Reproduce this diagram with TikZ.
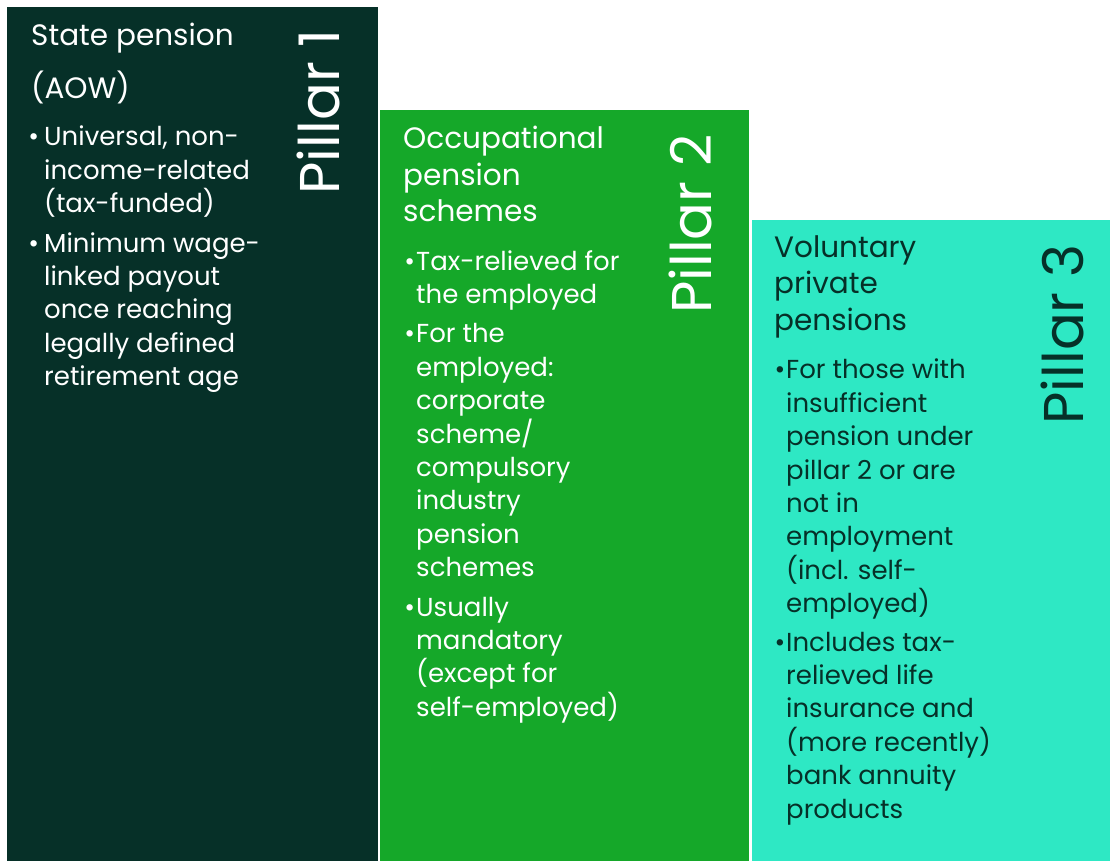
\documentclass[tikz,border=0pt]{standalone}
\usepackage{fontspec}
\setmainfont{Poppins}
\usetikzlibrary{positioning}
\definecolor{pillarone}{HTML}{063028}
\definecolor{pillartwo}{HTML}{15A829}
\definecolor{pillarthree}{HTML}{2EE8C4}
\tikzset{
	column/.style={inner sep=0pt, outer sep=0pt, anchor=south west},
	heading/.style={inner sep=0pt, anchor=north west, align=left,
		font=\fontsize{29.5}{36.5}\selectfont,
		execute at begin node={\rule{0pt}{24pt}}},
	body/.style={inner sep=0pt, anchor=north west, align=left,
		font=\fontsize{26}{33.4}\selectfont,
		execute at begin node={\rule{0pt}{24pt}}},
	pillarlabel/.style={inner sep=0pt, rotate=90, anchor=base east,
		font=\fontsize{56}{56}\selectfont},
}
\newcommand{\bul}{\llap{\textbullet\kern1pt}}

\begin{document}
\begin{tikzpicture}[x=1pt, y=-1pt]

\useasboundingbox (0,0) rectangle (1110,861);

% Pillar 1
\node [column,
	fill=pillarone,
	minimum width=370.5pt,
	minimum height=854pt
] (p1) at (7,861) {};

% Pillar 2
\node [right=2.5pt of p1.south east,
	column,
	fill=pillartwo,
	minimum width=369pt,
	minimum height=751pt
] (p2) {};

% Pillar 3
\node [right=3pt of p2.south east,
	column,
	fill=pillarthree,
	minimum width=358pt,
	minimum height=641pt
] (p3) {};

% Headings
\node [heading, text=white] (t1) at (31,23) {State pension\\[16pt](AOW)};
\node [heading, text=white] (t2) at (403,126) {Occupational\\pension\\schemes};
\node [heading, text=pillarone] (t3) at (774,235) {Voluntary\\private\\pensions};

% Bullets
\node [body, text=white] (b1) at (44,126) {%
\llap{\textbullet\kern5pt}Universal, non-\\income-related\\(tax-funded)\\[6pt]
\llap{\textbullet\kern5pt}Minimum wage-\\linked payout\\once reaching\\legally defined\\retirement age};
\node [body, text=white] (b2) at (416,250) {%
\bul Tax-relieved for\\the employed\\[6pt]
\bul For the\\employed:\\corporate\\scheme/\\compulsory\\industry\\pension\\schemes\\[6pt]
\bul Usually\\mandatory\\(except for\\self-employed)};
\node [body, text=pillarone] (b3) at (786,359) {%
\bul For those with\\insufficient\\pension under\\pillar 2 or are\\not in\\employment\\(incl. self-\\employed)\\[5pt]
\bul Includes tax-\\relieved life\\insurance and\\(more recently)\\bank annuity\\products};

% Pillar labels
\node [pillarlabel, text=white] (l1) at (339,29) {Pillar 1};
\node [pillarlabel, text=white] (l2) at (711,134) {Pillar 2};
\node [pillarlabel, text=pillarone] (l3) at (1083,244) {Pillar 3};

\end{tikzpicture}
\end{document}
